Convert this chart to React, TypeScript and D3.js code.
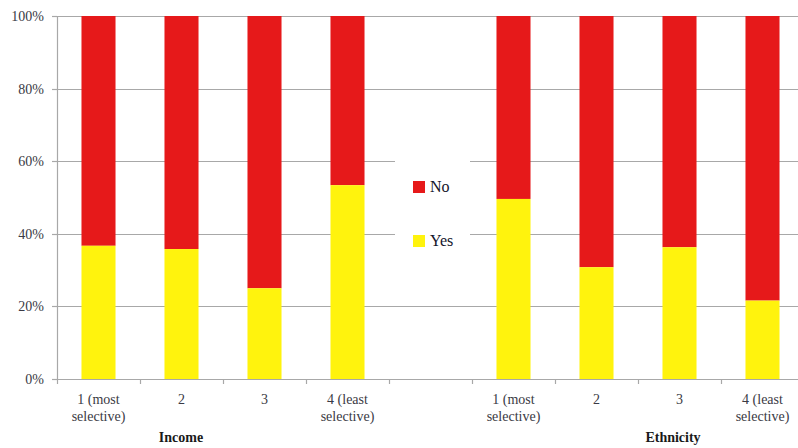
import React from "react";
import * as d3 from "d3";

const slots = ["i1", "i2", "i3", "i4", "gap", "e1", "e2", "e3", "e4"];
const barSlots = ["i1", "i2", "i3", "i4", "e1", "e2", "e3", "e4"];
const yesValues = [36.7, 35.8, 25.0, 53.4, 49.6, 30.8, 36.3, 21.6];
const labelLine1 = ["1 (most", "2", "3", "4 (least", "1 (most", "2", "3", "4 (least"];
const labelLine2 = ["selective)", "", "", "selective)", "selective)", "", "", "selective)"];
const yTicks = [0, 20, 40, 60, 80, 100];
const groupLabels = ["Income", "Ethnicity"];
const groupLabelX = [181, 673];
const seriesNames = ["No", "Yes"];

const RED = "#E6191A";
const YELLOW = "#FFF30D";
const GRID = "#a8a8a8";
const TXT = "#3a3a44";

export default function App() {
  const W = 798, H = 448;
  const left = 57, step = 83;
  const x = d3.scaleBand<string>().domain(slots).range([left, left + step * slots.length]).paddingInner(0.59).paddingOuter(0.295);
  const y = d3.scaleLinear().domain([0, 100]).range([379, 16]);

  return (
    <svg width={W} height={H} style={{ position: "absolute", left: 0, top: 0, background: "#fff" }}>
      <style>{`.ls{font-family:"Liberation Serif",serif !important;}`}</style>
      {yTicks.filter(t => t > 0).map(t => (
        <line key={"g" + t} x1={left} x2={W} y1={Math.round(y(t)) + 0.5} y2={Math.round(y(t)) + 0.5} stroke={GRID} strokeWidth={1.2} />
      ))}
      {barSlots.map((s, i) => {
        const bx = x(s)!;
        const bw = x.bandwidth();
        const v = yesValues[i];
        return (
          <g key={s}>
            <rect x={bx} y={y(100)} width={bw} height={y(v) - y(100)} fill={RED} />
            <rect x={bx} y={y(v)} width={bw} height={y(0) - y(v)} fill={YELLOW} />
          </g>
        );
      })}
      <line x1={left + 0.5} x2={left + 0.5} y1={y(100)} y2={y(0)} stroke={GRID} strokeWidth={1.2} />
      <line x1={left} x2={W} y1={Math.round(y(0)) + 0.5} y2={Math.round(y(0)) + 0.5} stroke={GRID} strokeWidth={1.2} />
      {yTicks.map(t => (
        <g key={"yt" + t}>
          <line x1={left - 5} x2={left} y1={Math.round(y(t)) + 0.5} y2={Math.round(y(t)) + 0.5} stroke={GRID} strokeWidth={1.2} />
          <text className="ls" x={44} y={y(t) + 5} textAnchor="end" fontSize={14} fill={TXT}>{t + "%"}</text>
        </g>
      ))}
      {slots.map((s, i) => (
        <line key={"xt" + s} x1={left + i * step + 0.5} x2={left + i * step + 0.5} y1={y(0)} y2={y(0) + 5} stroke={GRID} strokeWidth={1.2} />
      ))}
      {barSlots.map((s, i) => {
        const cx = x(s)! + x.bandwidth() / 2;
        return (
          <g key={"lb" + s}>
            <text className="ls" x={cx} y={404} textAnchor="middle" fontSize={14} fill={TXT}>{labelLine1[i]}</text>
            {labelLine2[i] && <text className="ls" x={cx} y={421} textAnchor="middle" fontSize={14} fill={TXT}>{labelLine2[i]}</text>}
          </g>
        );
      })}
      {groupLabels.map((g, i) => (
        <text className="ls" key={g} x={groupLabelX[i]} y={442} textAnchor="middle" fontSize={14} fontWeight="bold" fill="#1a1a1a">{g}</text>
      ))}
      <rect x={395} y={158} width={75} height={104} fill="#fff" />
      {seriesNames.map((n, i) => (
        <g key={n}>
          <rect x={413} y={181 + i * 54} width={12} height={12} fill={i === 0 ? RED : YELLOW} />
          <text className="ls" x={430} y={192 + i * 54} fontSize={16} fill="#14142a">{n}</text>
        </g>
      ))}
    </svg>
  );
}
